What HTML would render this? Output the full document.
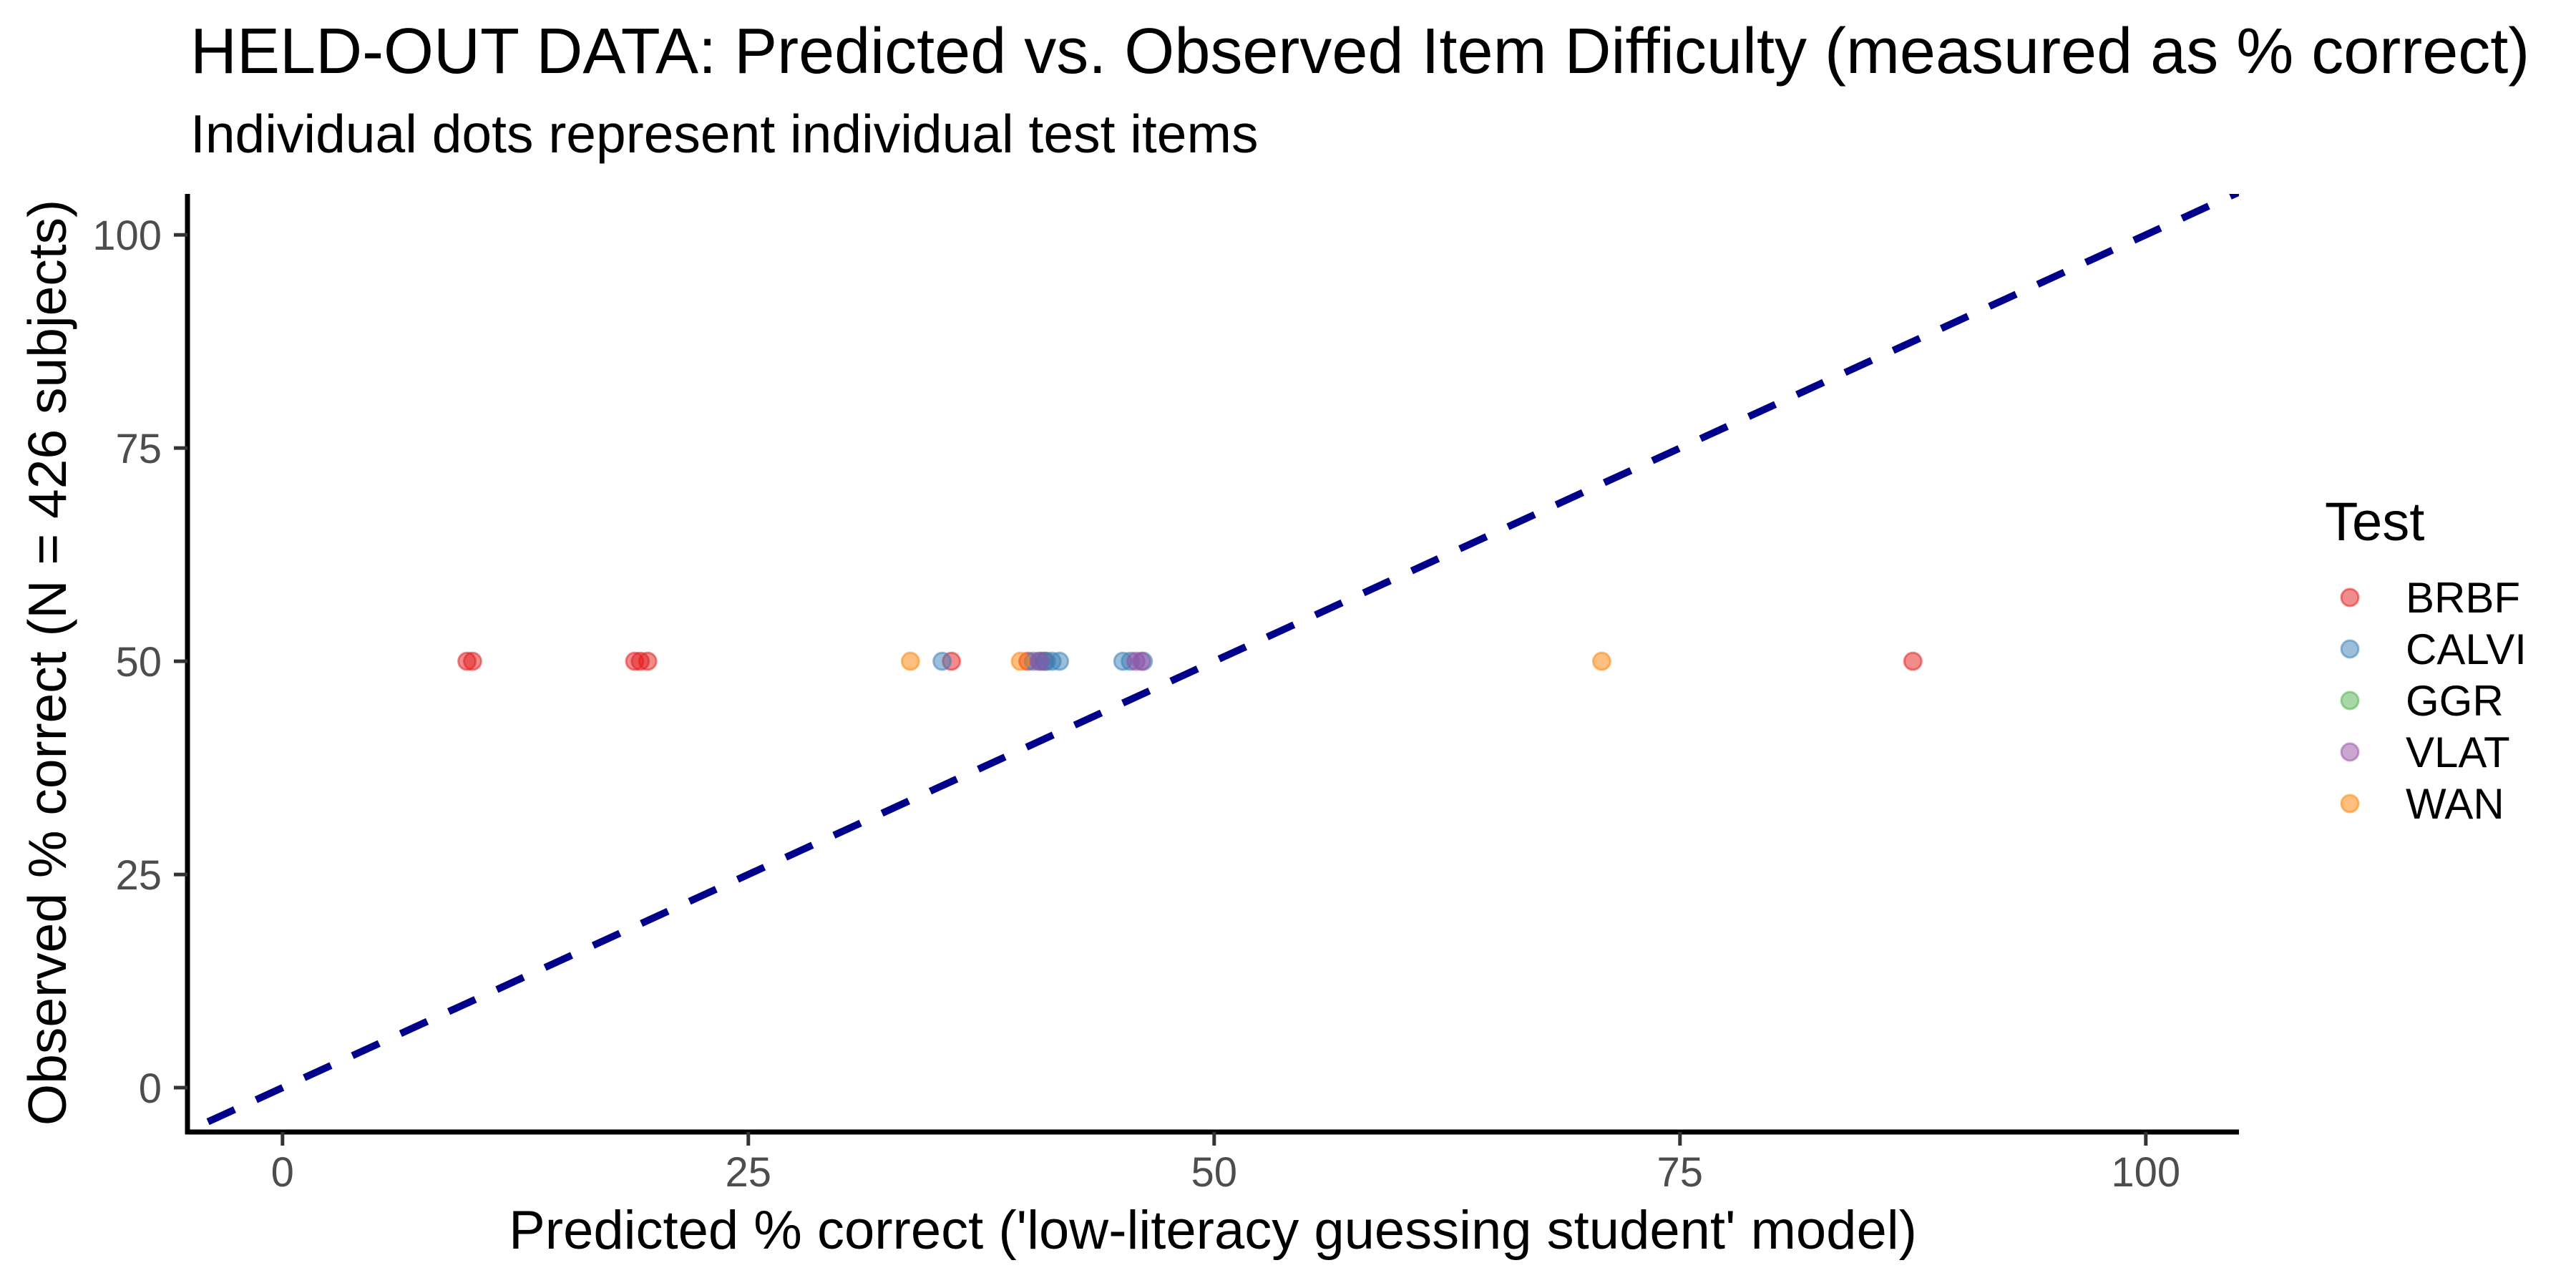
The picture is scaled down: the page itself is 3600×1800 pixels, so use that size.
<!DOCTYPE html>
<html><head><meta charset="utf-8"><style>
html,body{margin:0;padding:0;background:#fff;}
svg{display:block;font-family:"Liberation Sans",Arial,sans-serif;}
</style></head><body>
<svg id="chart" width="3600" height="1800" viewBox="0 0 3600 1800" xmlns="http://www.w3.org/2000/svg">
<text x="266" y="102" font-size="90" fill="#000">HELD-OUT DATA: Predicted vs. Observed Item Difficulty (measured as % correct)</text>
<text x="266" y="213" font-size="75" fill="#000">Individual dots represent individual test items</text>
<g id="plot"></g>
<text x="1695" y="1745" font-size="76" text-anchor="middle" fill="#000">Predicted % correct ('low-literacy guessing student' model)</text>
<text transform="translate(92,926) rotate(-90)" font-size="75" text-anchor="middle" fill="#000">Observed % correct (N = 426 subjects)</text>
<g id="legend">
<text x="3249" y="755" font-size="76" fill="#000">Test</text>
</g>
</svg>
<script>
const categories = ["BRBF","CALVI","GGR","VLAT","WAN"];
const colors = ["#E41A1C","#377EB8","#4DAF4A","#984EA3","#FF7F00"];
const pointTest = ["BRBF","BRBF","BRBF","BRBF","BRBF","BRBF","BRBF","BRBF","BRBF",
  "CALVI","CALVI","CALVI","CALVI","CALVI","CALVI","CALVI","CALVI","CALVI",
  "VLAT","VLAT","VLAT","WAN","WAN","WAN"];
const predicted = [9.9,10.2,18.9,19.2,19.6,35.9,40.0,40.9,87.5,
  35.4,40.3,40.7,41.0,41.3,41.7,45.1,45.5,46.2,
  40.6,45.8,46.1,33.7,39.6,70.8];
const observed = [50,50,50,50,50,50,50,50,50,
  50,50,50,50,50,50,50,50,50,
  50,50,50,50,50,50];
const xTicks = [0,25,50,75,100];
const yTicks = [0,25,50,75,100];
const lineRange = [-4, 105];

const NS="http://www.w3.org/2000/svg";
const PL=262, PR=3129, PT=271, PB=1582;
const XMIN=-5.1, XMAX=105.0, YMIN=-5.2, YMAX=104.8;
function sx(v){return PL+(v-XMIN)/(XMAX-XMIN)*(PR-PL);}
function sy(v){return PB-(v-YMIN)/(YMAX-YMIN)*(PB-PT);}
function mk(tag,attrs,parent){const e=document.createElementNS(NS,tag);for(const k in attrs)e.setAttribute(k,attrs[k]);parent.appendChild(e);return e;}
const plot=document.getElementById('plot');
const defs=mk('defs',{},plot);
const cp=mk('clipPath',{id:'clip'},defs);
mk('rect',{x:PL,y:PT,width:PR-PL,height:PB-PT},cp);

pointTest.forEach((t,i)=>{
  const c=colors[categories.indexOf(t)];
  const p=mk('circle',{cx:sx(predicted[i]),cy:sy(observed[i]),r:12,fill:c,'fill-opacity':0.5,stroke:c,'stroke-opacity':0.5,'stroke-width':3},plot);
  
  
});
const ln=mk('line',{x1:sx(lineRange[0]),y1:sy(lineRange[0]),x2:sx(lineRange[1]),y2:sy(lineRange[1]),stroke:'#00008B','stroke-width':10,'stroke-dasharray':'41 33','clip-path':'url(#clip)'},plot);


const ya=mk('line',{x1:PL,y1:PT,x2:PL,y2:PB+3,stroke:'#000','stroke-width':7},plot);


const xa=mk('line',{x1:PL-3,y1:PB,x2:PR,y2:PB,stroke:'#000','stroke-width':7},plot);


xTicks.forEach(v=>{
  const tk=mk('line',{x1:sx(v),y1:PB,x2:sx(v),y2:PB+19,stroke:'#333','stroke-width':5},plot);
  
  
  const tl=mk('text',{x:sx(v),y:1658,'font-size':58,'text-anchor':'middle',fill:'#4d4d4d'},plot);
  tl.textContent=v;
  
  
});
yTicks.forEach(v=>{
  const tk=mk('line',{x1:PL-19,y1:sy(v),x2:PL,y2:sy(v),stroke:'#333','stroke-width':5},plot);
  
  
  const tl=mk('text',{x:226,y:sy(v)+21,'font-size':58,'text-anchor':'end',fill:'#4d4d4d'},plot);
  tl.textContent=v;
  
  
});
const lg=document.getElementById('legend');
categories.forEach((c,i)=>{
  const y=835+i*72;
  const d=mk('circle',{cx:3284,cy:y,r:12,fill:colors[i],'fill-opacity':0.5,stroke:colors[i],'stroke-opacity':0.5,'stroke-width':3},lg);
  
  
  const t=mk('text',{x:3362,y:y+21,'font-size':60,fill:'#000'},lg);
  t.textContent=c;
  
  
});
</script>
</body></html>
